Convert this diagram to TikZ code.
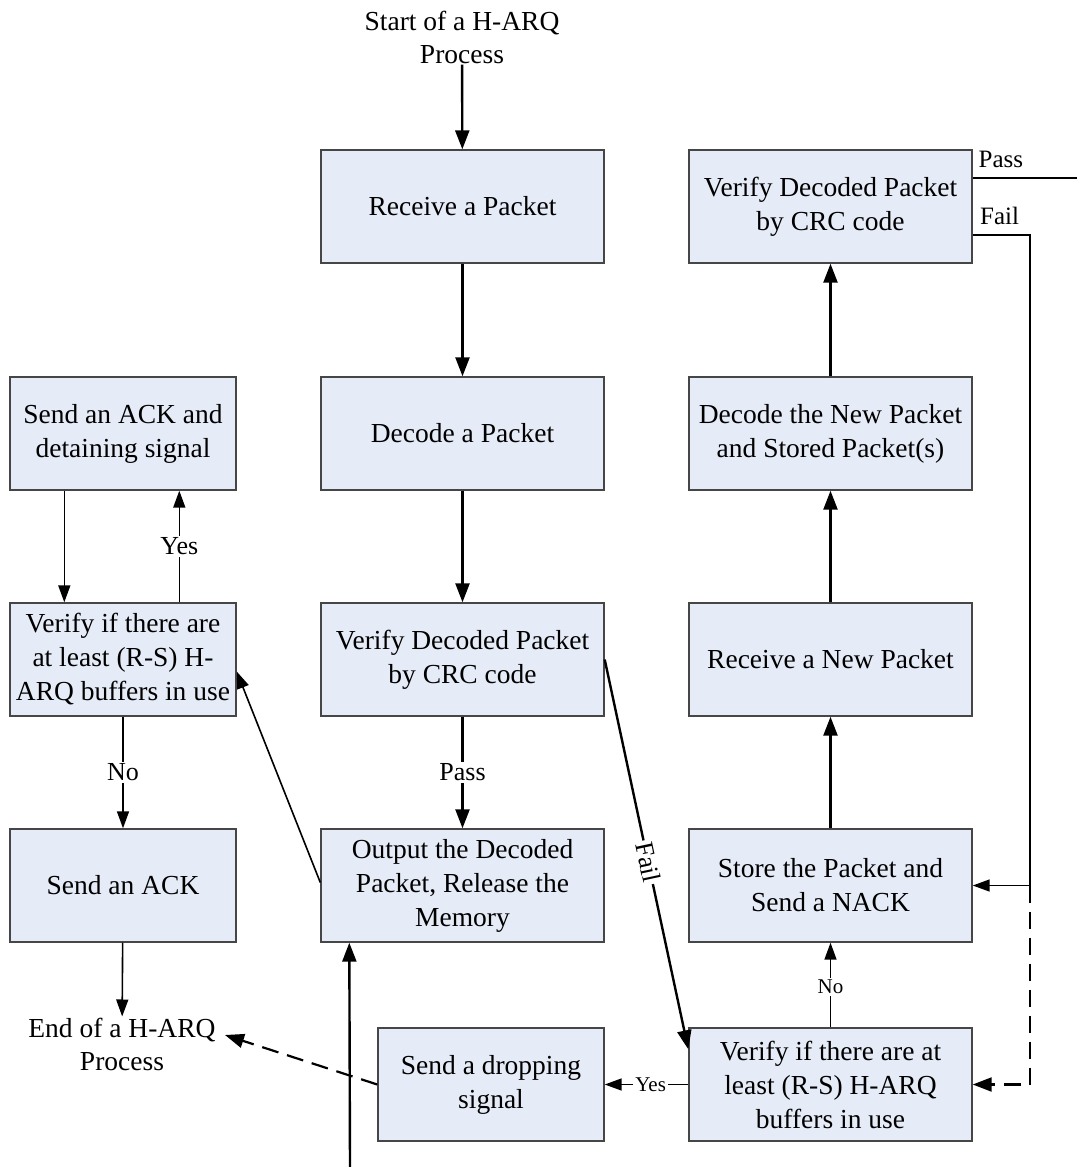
\documentclass[tikz,border=0pt]{standalone}
\usepackage{fontspec}
\setmainfont{Liberation Serif}
\usetikzlibrary{arrows.meta,calc}
\definecolor{boxfill}{RGB}{230,236,247}
\definecolor{boxline}{RGB}{70,70,70}
\begin{document}
\begin{tikzpicture}[x=1pt,y=-1pt,
  flowbox/.style={draw=boxline,line width=1.4pt,fill=boxfill,minimum height=113pt,align=center,inner sep=0pt,font=\fontsize{27.5}{34}\selectfont},
  wide/.style={flowbox,minimum width=283pt},
  narrow/.style={flowbox,minimum width=226pt},
  txt/.style={align=center,font=\fontsize{27.5}{33}\selectfont,inner sep=1pt},
  lbl/.style={fill=white,inner sep=2pt,font=\fontsize{26}{30}\selectfont},
  slbl/.style={fill=white,inner sep=2pt,font=\fontsize{21}{24}\selectfont},
  toplbl/.style={above,font=\fontsize{25}{28}\selectfont,inner sep=0pt,yshift=9pt},
  arr/.style={line width=2.4pt,-{Triangle[length=19pt,width=14pt]}},
  thinarr/.style={line width=1.6pt,-{Triangle[length=17pt,width=12pt]}},
  plain/.style={line width=2.2pt},
  dasharr/.style={line width=2.2pt,dash pattern=on 17pt off 9pt,-{Triangle[length=19pt,width=14pt]}}]
\useasboundingbox (0,0) rectangle (1077,1167);
% center column
\node[txt] (start) at (462,37) {Start of a H-ARQ\\Process};
\node[wide] (recv) at (462.5,206.5) {Receive a Packet};
\node[wide] (dec) at (462.5,433.5) {Decode a Packet};
\node[wide] (ver) at (462.5,659.5) {Verify Decoded Packet\\by CRC code};
\node[wide] (out) at (462.5,885.5) {Output the Decoded\\Packet, Release the\\Memory};
\node[narrow] (drop) at (491,1084.5) {Send a dropping\\signal};
% left column
\node[narrow] (lsend) at (123,433.5) {Send an ACK and\\detaining signal};
\node[narrow] (lver) at (123,659.5) {Verify if there are\\at least (R-S) H-\\ARQ buffers in use};
\node[narrow] (ack) at (123,885.5) {Send an ACK};
\node[txt] (end) at (122,1044) {End of a H-ARQ\\Process};
% right column
\node[wide] (rver) at (830.5,206.5) {Verify Decoded Packet\\by CRC code};
\node[wide] (rdec) at (830.5,433.5) {Decode the New Packet\\and Stored Packet(s)};
\node[wide] (rrecv) at (830.5,659.5) {Receive a New Packet};
\node[wide] (store) at (830.5,885.5) {Store the Packet and\\Send a NACK};
\node[wide] (bvr) at (830.5,1084.5) {Verify if there are at\\least (R-S) H-ARQ\\buffers in use};
% coordinates
\coordinate (failend) at ($(bvr.north west)+(0,22)$);
\coordinate (lverin) at ($(lver.east)+(0,12)$);
\coordinate (outleft) at ($(out.west)+(0,-3)$);
\coordinate (bottom) at (350,1167);
\coordinate (outbot) at ($(out.south west)+(29,0)$);
\coordinate (endtip) at (225,1035);
\coordinate (passA) at (rver.east |- 0,178);
\coordinate (passB) at (1077,178);
\coordinate (failA) at (rver.east |- 0,235);
\coordinate (failC) at (1030,235);
\coordinate (failD) at (1030,885.5);
\coordinate (dashD) at (1030,1084.5);
% center arrows
\draw[arr] (start) -- (recv);
\draw[arr] (recv) -- (dec);
\draw[arr] (dec) -- (ver);
\draw[arr] (ver) -- node[lbl]{Pass} (out);
\draw[arr] (ver.east) -- node[lbl,sloped,pos=0.52]{Fail} (failend);
\draw[arr] (bottom) -- (outbot);
\draw[thinarr] (outleft) -- (lverin);
% left arrows
\draw[thinarr] ($(lsend.south west)+(55,0)$) -- ($(lver.north west)+(55,0)$);
\draw[thinarr] ($(lver.north west)+(170,0)$) -- node[lbl]{Yes} ($(lsend.south west)+(170,0)$);
\draw[thinarr] (lver) -- node[lbl]{No} (ack);
\draw[thinarr] (ack) -- (end);
\draw[dasharr] (drop.west) -- (endtip);
% bottom right
\draw[thinarr] (bvr.west) -- node[slbl,pos=0.45]{Yes} (drop.east);
\draw[thinarr] (bvr) -- node[slbl,pos=0.48]{No} (store);
% right column arrows
\draw[arr] (store) -- (rrecv);
\draw[arr] (rrecv) -- (rdec);
\draw[arr] (rdec) -- (rver);
\draw[plain] (passA) -- node[toplbl,pos=0.27]{Pass} (passB);
\draw[plain] (failA) -- node[toplbl,pos=0.47]{Fail} (failC) -- (failD);
\draw[thinarr] (failD) -- (store.east);
\draw[dasharr] (failD) -- (dashD) -- (bvr.east);
\end{tikzpicture}
\end{document}
